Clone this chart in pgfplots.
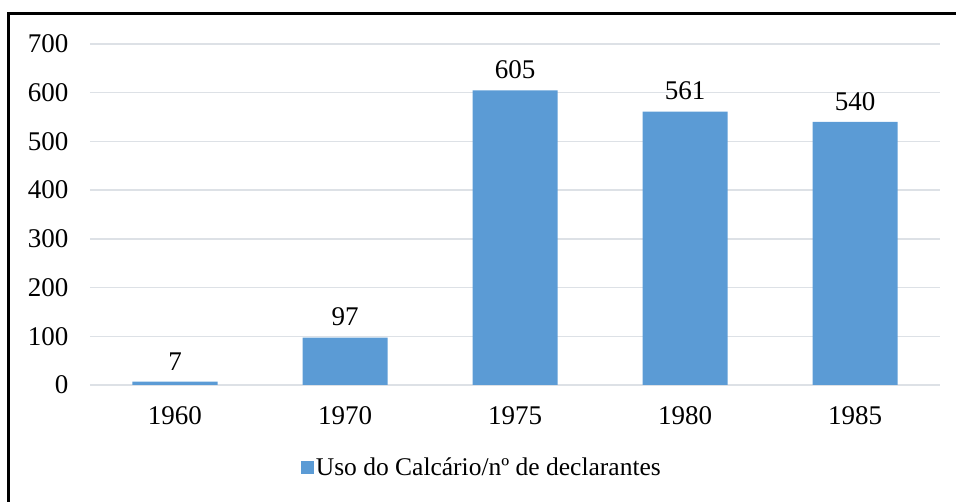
\documentclass[border=0pt]{standalone}
\usepackage{pgfplots}
\pgfplotsset{compat=1.18}
\usetikzlibrary{calc}
\usepackage{fontspec}
\setmainfont{Liberation Serif}
\setsansfont{Liberation Serif}
\definecolor{barblue}{HTML}{5B9BD5}
\definecolor{gridc}{HTML}{DDE1E6}
\begin{document}
\begin{tikzpicture}
\begin{axis}[
  name=ax,
  scale only axis, width=850pt, height=341pt,
  xmin=-0.5, xmax=4.5, ymin=0, ymax=700,
  ytick={0,100,...,700},
  xtick={0,1,2,3,4},
  xticklabels={1960,1970,1975,1980,1985},
  axis line style={draw=none},
  tick style={draw=none},
  ymajorgrids, grid style={gridc, line width=1.5pt},
  /pgf/number format/assume math mode=true,
  tick label style={font=\rmfamily\fontsize{27}{31}\selectfont},
  yticklabel style={xshift=-18pt},
  xticklabel style={yshift=-18pt},
  bar width=85pt,
  nodes near coords,
  every node near coord/.append style={font=\rmfamily\fontsize{27}{31}\selectfont, yshift=8pt, /pgf/number format/assume math mode=true},
  legend style={at={(0.461,-0.243)}, anchor=center, draw=none, font=\rmfamily\fontsize{25.5}{29}\selectfont, inner sep=0pt},
  legend image code/.code={\fill[barblue] (0pt,-6pt) rectangle (13pt,7pt);},
  clip=false,
]
\addplot[ybar, fill=barblue, draw=none] coordinates {(0,7) (1,97) (2,605) (3,561) (4,540)};
\addlegendentry{Uso do Calcário/nº de declarantes}
\end{axis}
\pgfresetboundingbox
\coordinate (O) at ($(ax.south west)+(-90pt,-117pt)$);
\path[use as bounding box] (O) rectangle ++(956pt,502pt);
\draw[line width=3pt,black] ($(O)+(9pt,0pt)$) -- ($(O)+(9pt,488pt)$) -- ($(O)+(956pt,488pt)$);
\end{tikzpicture}
\end{document}
